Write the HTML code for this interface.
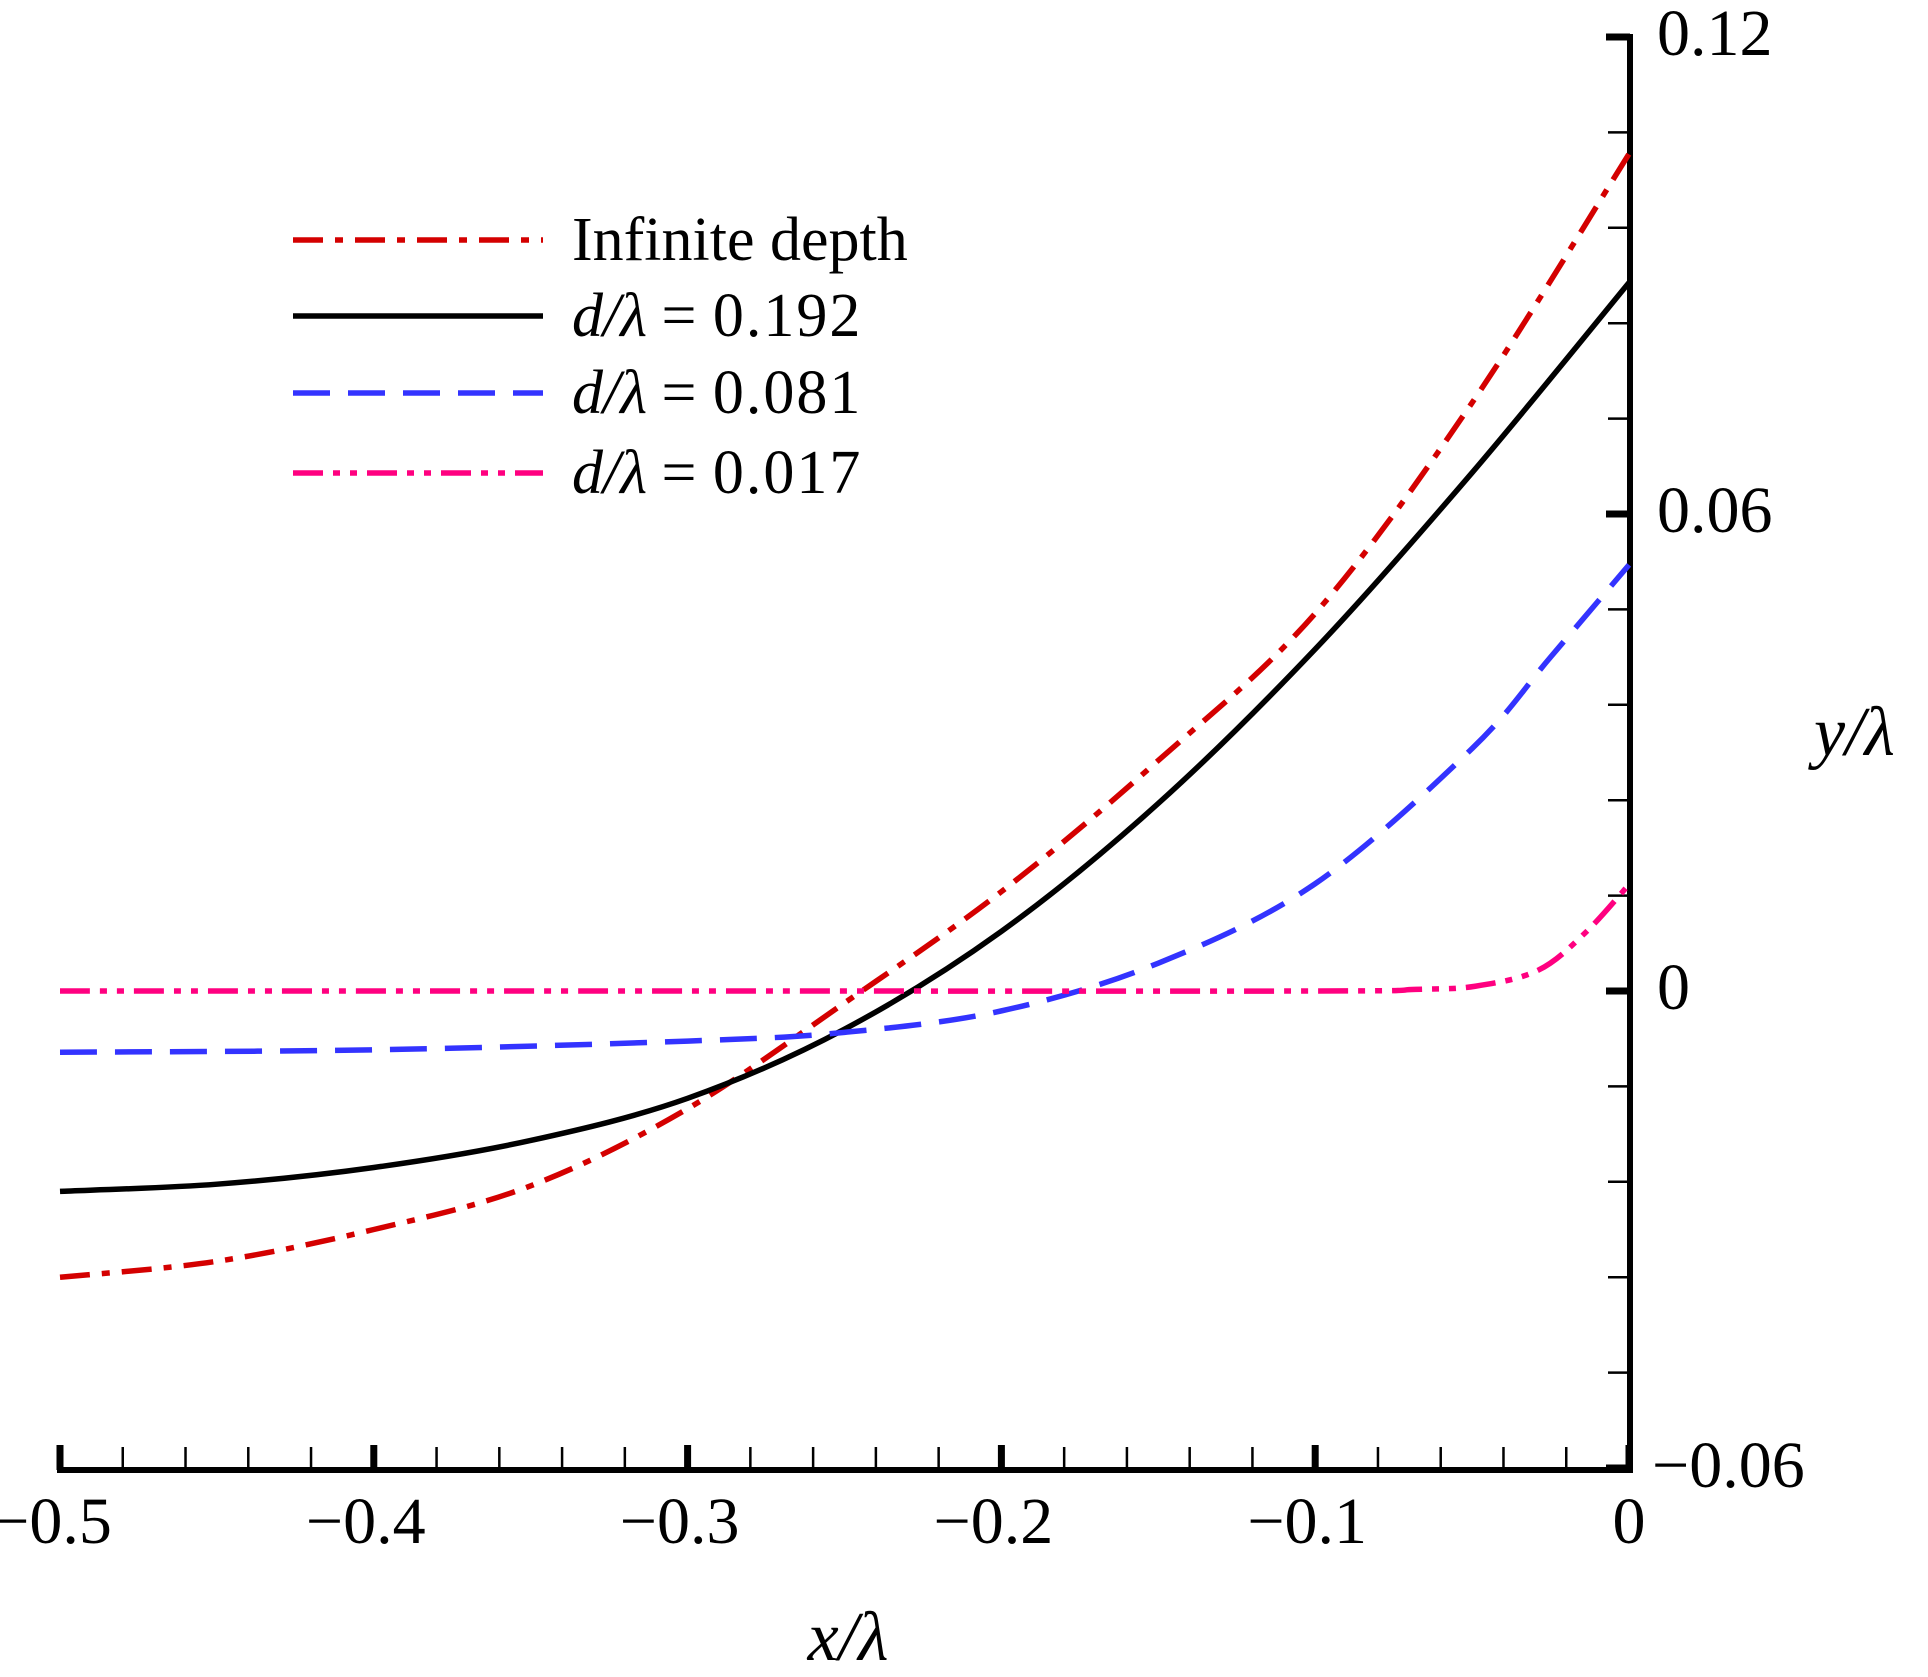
<!DOCTYPE html>
<html><head><meta charset="utf-8"><style>
html,body{margin:0;padding:0;background:#fff;}
svg{display:block;font-family:"Liberation Serif",serif;}
</style></head><body>
<svg id="chart" width="1928" height="1677" viewBox="0 0 1928 1677" xmlns="http://www.w3.org/2000/svg">
<g id="axes"></g>
<g id="series"></g>
<g id="legend"></g>
<text x="1814" y="755" font-size="70" font-style="italic">y/λ</text>
<text x="848" y="1660" font-size="70" font-style="italic" text-anchor="middle">x/λ</text>
</svg>
<script>
const xMajorTicks=[-0.5,-0.4,-0.3,-0.2,-0.1,0];
const xTickLabels=["\u22120.5","\u22120.4","\u22120.3","\u22120.2","\u22120.1","0"];
const yMajorTicks=[0.12,0.06,0,-0.06];
const yTickLabels=["0.12","0.06","0","\u22120.06"];
const infX=[-0.5,-0.45,-0.4,-0.35,-0.3,-0.25,-0.2,-0.15,-0.1,-0.05,0];
const infY=[-0.036,-0.034,-0.030,-0.0245,-0.0148,-0.0015,0.0125,0.029,0.0475,0.074,0.1053];
const d192X=[-0.5,-0.45,-0.4,-0.35,-0.3,-0.25,-0.2,-0.15,-0.1,-0.05,0];
const d192Y=[-0.0252,-0.0243,-0.0222,-0.0188,-0.0135,-0.0048,0.0075,0.0236,0.043,0.0652,0.0891];
const d081X=[-0.5,-0.4,-0.3,-0.25,-0.2,-0.15,-0.1,-0.05,-0.025,0];
const d081Y=[-0.0077,-0.0074,-0.0063,-0.0052,-0.0025,0.0035,0.0135,0.0305,0.042,0.0536];
const d017X=[-0.5,-0.3,-0.1,-0.068,-0.049,-0.029,-0.014,0];
const d017Y=[0,0,0,0.0002,0.0006,0.0026,0.0073,0.0134];

const X0=60,X1=1629,Y0=991,YPU=95.4/0.012;
const sx=v=>X0+(v+0.5)/0.5*(X1-X0);
const sy=v=>Y0-v*YPU;
const NS="http://www.w3.org/2000/svg";
function mk(tag,parent,attrs){const e=document.createElementNS(NS,tag);for(const k in attrs)e.setAttribute(k,attrs[k]);parent.appendChild(e);return e;}
const axes=document.getElementById('axes');
for(let i=0;i<=25;i++){const v=-0.5+i*0.02;const t=mk('line',axes,{x1:sx(v),x2:sx(v),y1:1470,y2:1447,stroke:'#000','stroke-width':2.5});

}
xMajorTicks.forEach((v,i)=>{const t=mk('line',axes,{x1:sx(v),x2:sx(v),y1:1470,y2:1445,stroke:'#000','stroke-width':7});


const l=mk('text',axes,{x:sx(v)-(i<5?8:0),y:1543,'font-size':66,'text-anchor':'middle'});l.textContent=xTickLabels[i];

});
for(let i=0;i<=15;i++){const v=-0.06+i*0.012;const t=mk('line',axes,{x1:1630,x2:1608,y1:sy(v),y2:sy(v),stroke:'#000','stroke-width':2.5});

}
yMajorTicks.forEach((v,i)=>{const t=mk('line',axes,{x1:1630,x2:1606,y1:sy(v),y2:sy(v),stroke:'#000','stroke-width':7});


const l=mk('text',axes,{x:i==3?1652:1657,y:sy(v)+(i==0?18:i==3?19:18),'font-size':66});l.textContent=yTickLabels[i];

});
const xa=mk('line',axes,{x1:57,x2:1633,y1:1470,y2:1470,stroke:'#000','stroke-width':6});


const ya=mk('line',axes,{x1:1630,x2:1630,y1:34,y2:1473,stroke:'#000','stroke-width':6});



function pathD(xs,ys){const p=xs.map((x,i)=>[sx(x),sy(ys[i])]);let d=`M${p[0][0]},${p[0][1]}`;
for(let i=0;i<p.length-1;i++){const a=p[i-1]||p[i],b=p[i],c=p[i+1],e=p[i+2]||c;
d+=` C${b[0]+(c[0]-a[0])/6},${b[1]+(c[1]-a[1])/6} ${c[0]-(e[0]-b[0])/6},${c[1]-(e[1]-b[1])/6} ${c[0]},${c[1]}`;}return d;}
const series=document.getElementById('series');
const defs=[
 ['infinite-depth-line',infX,infY,'#d40000','30 12 8 12'],
 ['d-0192-line',d192X,d192Y,'#000',''],
 ['d-0081-line',d081X,d081Y,'#3333ff','37 18'],
 ['d-0017-line',d017X,d017Y,'#ff0080','30 10 7 10 7 10']];
defs.forEach(s=>{const p=mk('path',series,{d:pathD(s[1],s[2]),fill:'none',stroke:s[3],'stroke-width':5.5,'stroke-dasharray':s[4]});

});
const legend=document.getElementById('legend');
const labels=[["Infinite depth",false],["d/λ = 0.192",true],["d/λ = 0.081",true],["d/λ = 0.017",true]];
const ly=[240,316,393,473];
defs.forEach((s,i)=>{const l=mk('line',legend,{x1:293,x2:543,y1:ly[i],y2:ly[i],stroke:s[3],'stroke-width':5.5,'stroke-dasharray':s[4]});


const t=mk('text',legend,{x:572,y:ly[i]+20,'font-size':62});


if(labels[i][1]){const a=mk('tspan',t,{'font-style':'italic'});a.textContent='d/λ';const b=mk('tspan',t,{'letter-spacing':'2'});b.textContent='\u2009=\u2009'+labels[i][0].split('= ')[1];}
else t.textContent=labels[i][0];});
</script>
</body></html>
